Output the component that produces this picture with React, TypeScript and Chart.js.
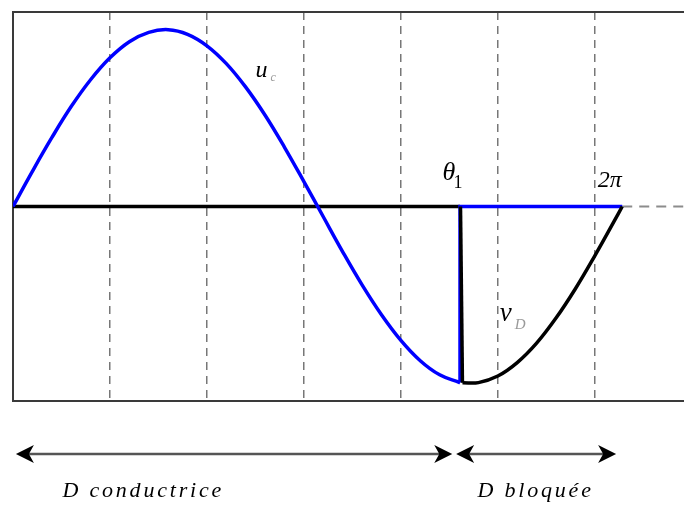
import React, { useEffect, useRef } from "react";
import { Chart, registerables } from "chart.js";

Chart.register(...registerables);

// angle (rad) values
const THETA1 = 4.61;
const TWO_PI = 6.283;
const X_MAX = 6.92;

// u_c (conduction) samples, θ in rad
const ucTheta = [0, 0.2, 0.4, 0.6, 0.8, 1.0, 1.2, 1.4, 1.6, 1.8, 2.0, 2.2, 2.4, 2.6, 2.8, 3.0, 3.2, 3.4, 3.6, 3.8, 4.0, 4.2, 4.4, 4.6, 4.61];
const ucValues = [0, 0.199, 0.389, 0.565, 0.717, 0.841, 0.932, 0.985, 1.0, 0.974, 0.909, 0.808, 0.675, 0.516, 0.335, 0.141, -0.058, -0.256, -0.443, -0.612, -0.757, -0.872, -0.952, -0.994, -0.995];

// v_D (blocked) samples
const vdTheta = [4.635, 4.8, 5.0, 5.2, 5.4, 5.6, 5.8, 6.0, 6.2, 6.283];
const vdValues = [-0.997, -0.996, -0.959, -0.883, -0.773, -0.631, -0.465, -0.279, -0.083, 0];

// span arrows under the plot (θ start, θ end) and their labels
const spanStart = [0.03, 4.57];
const spanEnd = [4.53, 6.22];
const spanLabels = ["D conductrice", "D bloquée"];
const spanLabelTheta = [0.51, 4.79];

const FONT = '"Liberation Serif", "Times New Roman", serif';

function arrowHead(ctx: CanvasRenderingContext2D, tipX: number, y: number, dir: number) {
  const len = 18;
  const half = 9;
  const notch = 5;
  ctx.beginPath();
  ctx.moveTo(tipX, y);
  ctx.lineTo(tipX - dir * len, y - half);
  ctx.lineTo(tipX - dir * (len - notch), y);
  ctx.lineTo(tipX - dir * len, y + half);
  ctx.closePath();
  ctx.fill();
}

const decorPlugin = {
  id: "decor",
  beforeDatasetsDraw(chart: any) {
    const { ctx, chartArea } = chart;
    const { left, right, top, bottom } = chartArea;
    ctx.save();
    ctx.strokeStyle = "#3a3a3a";
    ctx.lineWidth = 2;
    ctx.beginPath();
    ctx.moveTo(right, top);
    ctx.lineTo(left, top);
    ctx.lineTo(left, bottom);
    ctx.lineTo(right, bottom);
    ctx.stroke();
    ctx.restore();
  },
  afterDraw(chart: any) {
    const { ctx, chartArea } = chart;
    const xs = chart.scales.x;
    const ys = chart.scales.y;
    const bottom = chartArea.bottom;
    ctx.save();

    // span arrows
    const ay = bottom + 53;
    for (let i = 0; i < spanStart.length; i++) {
      const x1 = xs.getPixelForValue(spanStart[i]);
      const x2 = xs.getPixelForValue(spanEnd[i]);
      ctx.strokeStyle = "#555";
      ctx.lineWidth = 2.5;
      ctx.beginPath();
      ctx.moveTo(x1 + 8, ay);
      ctx.lineTo(x2 - 8, ay);
      ctx.stroke();
      ctx.fillStyle = "#000";
      arrowHead(ctx, x1, ay, -1);
      arrowHead(ctx, x2, ay, 1);
    }

    // span labels
    ctx.fillStyle = "#000";
    ctx.textBaseline = "alphabetic";
    ctx.textAlign = "left";
    (ctx as any).letterSpacing = "2.8px";
    ctx.font = `italic 22px ${FONT}`;
    for (let i = 0; i < spanLabels.length; i++) {
      ctx.fillText(spanLabels[i], xs.getPixelForValue(spanLabelTheta[i]), bottom + 96);
    }
    (ctx as any).letterSpacing = "0px";

    // curve labels
    const px = (v: number) => xs.getPixelForValue(v);
    const py = (v: number) => ys.getPixelForValue(v);

    // u_c
    ctx.font = `italic 24px ${FONT}`;
    ctx.fillStyle = "#000";
    ctx.fillText("u", px(2.5), py(0.73));
    ctx.font = `italic 12px ${FONT}`;
    ctx.fillStyle = "#9a9a9a";
    ctx.fillText("c", px(2.5) + 15, py(0.73) + 4);

    // θ1
    ctx.font = `italic 26px ${FONT}`;
    ctx.fillStyle = "#000";
    ctx.fillText("θ", px(4.43), py(0.15));
    ctx.font = `18px ${FONT}`;
    ctx.fillText("1", px(4.43) + 11, py(0.105));

    // 2π
    ctx.font = `italic 24px ${FONT}`;
    ctx.fillText("2π", px(6.03), py(0.11));

    // v_D
    ctx.font = `italic 27px ${FONT}`;
    ctx.fillStyle = "#000";
    ctx.fillText("v", px(5.02), py(-0.645));
    ctx.font = `italic 15px ${FONT}`;
    ctx.fillStyle = "#9a9a9a";
    ctx.fillText("D", px(5.02) + 15, py(-0.69));

    ctx.restore();
  },
};

export default function App() {
  const ref = useRef<HTMLCanvasElement>(null);

  useEffect(() => {
    if (!ref.current) return;
    const ucPoints = ucTheta.map((t, i) => ({ x: t, y: ucValues[i] }));
    const vdPoints = vdTheta.map((t, i) => ({ x: t, y: vdValues[i] }));
    const chart = new Chart(ref.current, {
      type: "line",
      data: {
        datasets: [
          {
            label: "extension",
            data: [{ x: TWO_PI, y: 0 }, { x: X_MAX, y: 0 }],
            borderColor: "#8c8c8c",
            borderWidth: 2,
            borderDash: [10, 7],
            pointRadius: 0,
            tension: 0,
            order: 6,
          },
          {
            label: "zero",
            data: [{ x: 0, y: 0 }, { x: THETA1, y: 0 }],
            borderColor: "#000",
            borderWidth: 3.5,
            pointRadius: 0,
            tension: 0,
            order: 5,
          },
          {
            label: "u_c",
            data: ucPoints,
            borderColor: "#0000ff",
            borderWidth: 3.5,
            pointRadius: 0,
            tension: 0.4,
            order: 4,
          },
          {
            label: "u_c blocked",
            data: [{ x: THETA1, y: ucValues[ucValues.length - 1] }, { x: THETA1, y: 0 }, { x: TWO_PI, y: 0 }],
            borderColor: "#0000ff",
            borderWidth: 3.5,
            pointRadius: 0,
            tension: 0,
            order: 3,
          },
          {
            label: "v_D step",
            data: [{ x: THETA1 + 0.005, y: 0 }, { x: vdTheta[0], y: vdValues[0] }],
            borderColor: "#000",
            borderWidth: 3.5,
            pointRadius: 0,
            tension: 0,
            order: 2,
          },
          {
            label: "v_D",
            data: vdPoints,
            borderColor: "#000",
            borderWidth: 3.5,
            pointRadius: 0,
            tension: 0.4,
            order: 1,
          },
        ],
      },
      options: {
        animation: false,
        responsive: false,
        parsing: false,
        layout: { padding: { left: 13, top: 12, right: 0, bottom: 105 } },
        plugins: { legend: { display: false }, tooltip: { enabled: false } },
        scales: {
          x: {
            type: "linear",
            min: 0,
            max: X_MAX,
            display: true,
            ticks: { display: false, stepSize: 1, includeBounds: false },
            grid: {
              drawTicks: false,
              lineWidth: 1.5,
              color: (c: any) => {
                const v = c.tick ? c.tick.value : 0;
                return v === 0 || Math.abs(v - Math.round(v)) > 1e-6 ? "rgba(0,0,0,0)" : "#777";
              },
            },
            border: { display: false, dash: [8, 6] },
          },
          y: {
            type: "linear",
            min: -1.1,
            max: 1.1,
            display: false,
          },
        },
      },
      plugins: [decorPlugin],
    });
    return () => chart.destroy();
  }, []);

  return (
    <div style={{ position: "absolute", left: 0, top: 0, width: 684, height: 506, background: "#fff" }}>
      <canvas ref={ref} width={684} height={506} style={{ display: "block" }} />
    </div>
  );
}
